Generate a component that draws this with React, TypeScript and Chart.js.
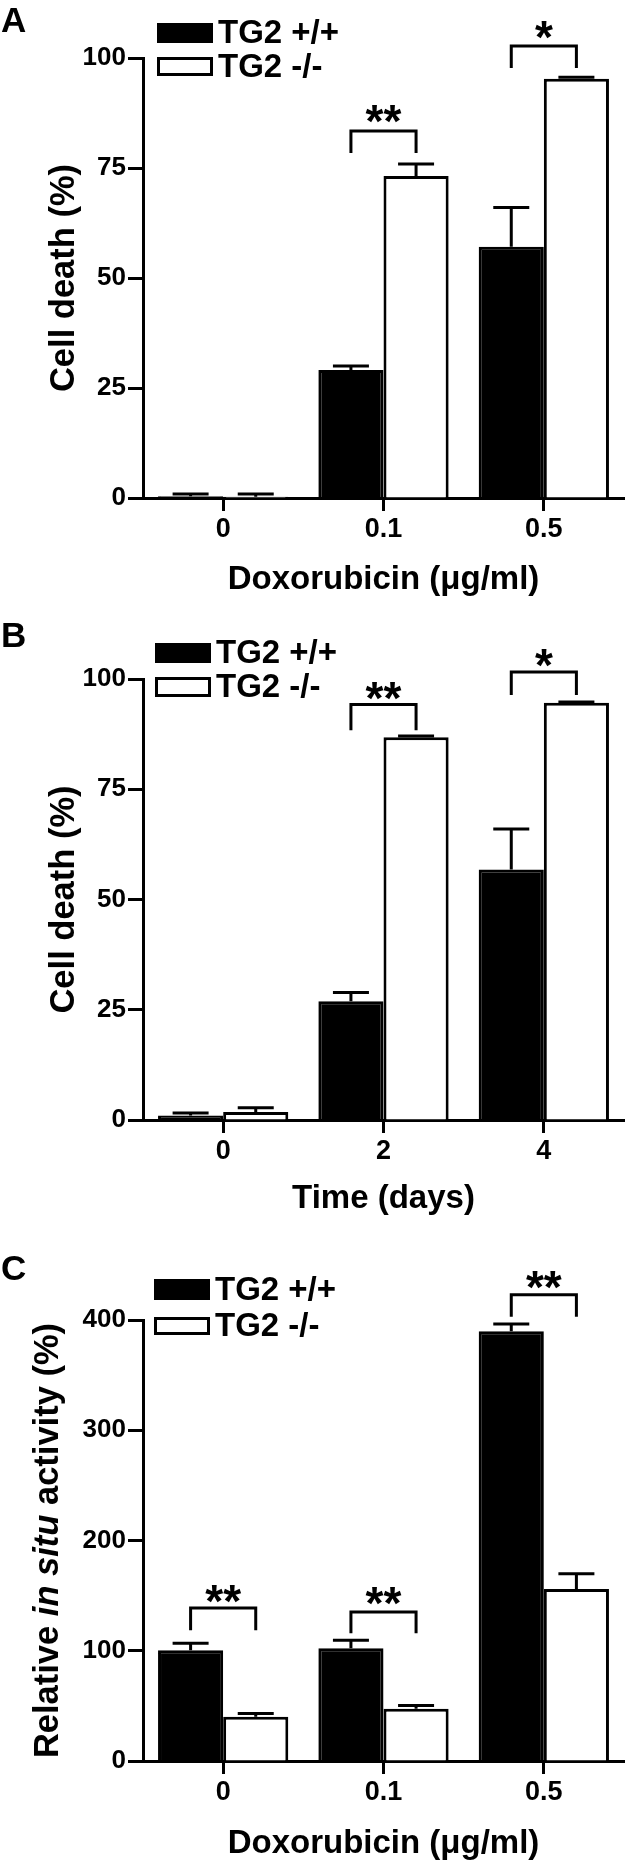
import React, { useEffect, useRef } from 'react';
import { Chart, registerables } from 'chart.js';

Chart.register(...registerables);

const FONT = '"Liberation Sans", Arial, Helvetica, sans-serif';

// ---------- Data: panel A (doxorubicin, cell death) ----------
const catsA = ['0', '0.1', '0.5'];
const wtA = [0.4, 29.1, 57.1];
const wtErrA = [0.5, 0.9, 8.9];
const koA = [0.3, 73.2, 95.3];
const koErrA = [0.6, 2.7, 0.3];
const sigA = ['', '**', '*'];
const brTopA = [null, 83.4, 102.7];
const brLegA = [null, 78.4, 97.7];
const starA = [null, 87.3, 106.4];

// ---------- Data: panel B (time, cell death) ----------
const catsB = ['0', '2', '4'];
const wtB = [1.0, 26.9, 56.8];
const wtErrB = [0.6, 2.0, 9.2];
const koB = [1.8, 86.8, 94.6];
const koErrB = [1.0, 0.3, 0.2];
const sigB = ['', '**', '*'];
const brTopB = [null, 94.2, 101.6];
const brLegB = [null, 88.4, 96.4];
const starB = [null, 97.3, 104.7];

// ---------- Data: panel C (relative in situ activity) ----------
const catsC = ['0', '0.1', '0.5'];
const wtC = [100.5, 102.3, 389.8];
const wtErrC = [6.2, 7.3, 6.5];
const koC = [40.2, 47.5, 156.0];
const koErrC = [2.9, 2.9, 13.9];
const sigC = ['**', '**', '**'];
const brTopC = [138.8, 135.2, 423.0];
const brLegC = [118.7, 115.8, 403.0];
const starC = [151.6, 149.8, 436.5];

const seriesLabels = ['TG2 +/+', 'TG2 -/-'];

type Panel = {
  letter: string;
  letterBaseline: number;
  top: number;
  height: number;
  chartTop: number;
  chartBottom: number;
  cats: string[];
  wt: number[];
  wtErr: number[];
  ko: number[];
  koErr: number[];
  sig: string[];
  brTop: (number | null)[];
  brLeg: (number | null)[];
  star: (number | null)[];
  yMax: number;
  yStep: number;
  xTitle: string;
  xTitlePad: number;
  yTitle: string | null;
  yTitleParts: { t: string; italic: boolean }[] | null;
  yTitleX: number;
  legendX: number;
  legendBoxes: { y: number; h: number }[];
};

const panels: Panel[] = [
  {
    letter: 'A', letterBaseline: 32, top: 0, height: 620, chartTop: 58, chartBottom: 498,
    cats: catsA, wt: wtA, wtErr: wtErrA, ko: koA, koErr: koErrA, sig: sigA,
    brTop: brTopA, brLeg: brLegA, star: starA, yMax: 100, yStep: 25,
    xTitle: 'Doxorubicin (\u03bcg/ml)', xTitlePad: 23.5, yTitle: 'Cell death (%)', yTitleParts: null, yTitleX: 64,
    legendX: 157, legendBoxes: [{ y: 23, h: 20 }, { y: 57, h: 19 }],
  },
  {
    letter: 'B', letterBaseline: 27, top: 620, height: 620, chartTop: 59, chartBottom: 500,
    cats: catsB, wt: wtB, wtErr: wtErrB, ko: koB, koErr: koErrB, sig: sigB,
    brTop: brTopB, brLeg: brLegB, star: starB, yMax: 100, yStep: 25,
    xTitle: 'Time (days)', xTitlePad: 24.5, yTitle: 'Cell death (%)', yTitleParts: null, yTitleX: 64,
    legendX: 155, legendBoxes: [{ y: 23, h: 20 }, { y: 57, h: 20 }],
  },
  {
    letter: 'C', letterBaseline: 40, top: 1240, height: 630, chartTop: 80, chartBottom: 521,
    cats: catsC, wt: wtC, wtErr: wtErrC, ko: koC, koErr: koErrC, sig: sigC,
    brTop: brTopC, brLeg: brLegC, star: starC, yMax: 400, yStep: 100,
    xTitle: 'Doxorubicin (\u03bcg/ml)', xTitlePad: 9.5, yTitle: null,
    yTitleParts: [
      { t: 'Relative ', italic: false },
      { t: 'in situ', italic: true },
      { t: ' activity (%)', italic: false },
    ],
    yTitleX: 48,
    legendX: 154, legendBoxes: [{ y: 39, h: 21 }, { y: 77, h: 18 }],
  },
];

const CAP = 36;
const Y_TITLE_SIZE = 34.5;

function makeDecor(p: Panel) {
  return {
    id: 'decor',
    afterDatasetsDraw(chart: any) {
      const ctx = chart.ctx;
      const ys = chart.scales.y;
      const errs = [p.wtErr, p.koErr];
      ctx.save();
      ctx.strokeStyle = '#000';
      ctx.lineWidth = 3;
      chart.data.datasets.forEach((ds: any, di: number) => {
        const meta = chart.getDatasetMeta(di);
        meta.data.forEach((bar: any, j: number) => {
          const v = ds.data[j];
          const e = errs[di][j];
          const yBar = ys.getPixelForValue(v);
          const yTop = ys.getPixelForValue(v + e);
          ctx.beginPath();
          ctx.moveTo(bar.x, yBar);
          ctx.lineTo(bar.x, yTop);
          ctx.moveTo(bar.x - CAP / 2, yTop);
          ctx.lineTo(bar.x + CAP / 2, yTop);
          ctx.stroke();
        });
      });
      ctx.restore();
    },
    afterDraw(chart: any) {
      const ctx = chart.ctx;
      const ys = chart.scales.y;
      const m0 = chart.getDatasetMeta(0);
      const m1 = chart.getDatasetMeta(1);
      ctx.save();
      ctx.strokeStyle = '#000';
      ctx.fillStyle = '#000';
      ctx.lineWidth = 3;
      ctx.lineJoin = 'miter';
      // significance brackets
      p.cats.forEach((_c, j) => {
        const top = p.brTop[j];
        const leg = p.brLeg[j];
        if (top == null || leg == null || !p.sig[j]) return;
        const xl = m0.data[j].x;
        const xr = m1.data[j].x;
        const yt = ys.getPixelForValue(top);
        const yl = ys.getPixelForValue(leg);
        ctx.beginPath();
        ctx.moveTo(xl, yl);
        ctx.lineTo(xl, yt);
        ctx.lineTo(xr, yt);
        ctx.lineTo(xr, yl);
        ctx.stroke();
        const sy = p.star[j];
        if (sy != null) {
          ctx.font = `bold 46px ${FONT}`;
          ctx.textAlign = 'center';
          ctx.textBaseline = 'alphabetic';
          const m = ctx.measureText(p.sig[j]);
          const off = (m.actualBoundingBoxAscent - m.actualBoundingBoxDescent) / 2;
          ctx.fillText(p.sig[j], (xl + xr) / 2, ys.getPixelForValue(sy) + off);
        }
      });
      // legend
      p.legendBoxes.forEach((b, i) => {
        const w = 56;
        if (i === 0) {
          ctx.fillStyle = '#000';
          ctx.fillRect(p.legendX, b.y, w, b.h);
        } else {
          ctx.fillStyle = '#fff';
          ctx.fillRect(p.legendX, b.y, w, b.h);
          ctx.strokeStyle = '#000';
          ctx.lineWidth = 3;
          ctx.strokeRect(p.legendX + 1.5, b.y + 1.5, w - 3, b.h - 3);
        }
        ctx.fillStyle = '#000';
        ctx.font = `bold 33px ${FONT}`;
        ctx.textAlign = 'left';
        ctx.textBaseline = 'middle';
        ctx.fillText(seriesLabels[i], p.legendX + 61, b.y + b.h / 2 + 1);
      });
      // panel letter
      ctx.fillStyle = '#000';
      ctx.font = `bold 35px ${FONT}`;
      ctx.textAlign = 'left';
      ctx.textBaseline = 'alphabetic';
      ctx.fillText(p.letter, 1, p.letterBaseline);
      // mixed-style y title
      if (p.yTitleParts) {
        const area = chart.chartArea;
        const cy = (area.top + area.bottom) / 2;
        const fontFor = (it: boolean) => `${it ? 'italic ' : ''}bold ${Y_TITLE_SIZE}px ${FONT}`;
        let total = 0;
        p.yTitleParts.forEach((pt) => {
          ctx.font = fontFor(pt.italic);
          total += ctx.measureText(pt.t).width;
        });
        ctx.translate(p.yTitleX, cy);
        ctx.rotate(-Math.PI / 2);
        ctx.textBaseline = 'middle';
        ctx.textAlign = 'left';
        let x = -total / 2;
        p.yTitleParts.forEach((pt) => {
          ctx.font = fontFor(pt.italic);
          ctx.fillText(pt.t, x, 0);
          x += ctx.measureText(pt.t).width;
        });
      }
      ctx.restore();
    },
  };
}

function PanelChart({ p }: { p: Panel }) {
  const ref = useRef<HTMLCanvasElement | null>(null);
  useEffect(() => {
    if (!ref.current) return;
    const chart = new Chart(ref.current, {
      type: 'bar',
      data: {
        labels: p.cats,
        datasets: [
          {
            label: seriesLabels[0], data: p.wt, backgroundColor: '#000', borderColor: '#000',
            borderWidth: 3, categoryPercentage: 0.8125, barPercentage: 1,
          },
          {
            label: seriesLabels[1], data: p.ko, backgroundColor: '#fff', borderColor: '#000',
            borderWidth: 3, categoryPercentage: 0.8125, barPercentage: 1,
          },
        ],
      },
      options: {
        responsive: false,
        animation: false,
        events: [],
        layout: { padding: { top: p.chartTop, left: 0, right: 12, bottom: 0 } },
        plugins: { legend: { display: false }, tooltip: { enabled: false } },
        scales: {
          x: {
            grid: {
              offset: false, drawOnChartArea: false, drawTicks: true, tickLength: 13,
              tickWidth: 3, tickColor: '#000', color: '#000',
            },
            border: { display: true, color: '#000', width: 3 },
            ticks: {
              autoSkip: false, color: '#000', padding: 2,
              font: { family: FONT, size: 27, weight: 'bold', lineHeight: 1.2 },
            },
            title: {
              display: true, text: p.xTitle, color: '#000',
              font: { family: FONT, size: 33, weight: 'bold', lineHeight: 1 },
              padding: { top: 0, bottom: p.xTitlePad },
            },
            afterFit: (s: any) => { s.height = p.height - p.chartBottom; },
          },
          y: {
            min: 0, max: p.yMax,
            grid: {
              drawOnChartArea: false, drawTicks: true, tickLength: 15,
              tickWidth: 3, tickColor: '#000', color: '#000',
            },
            border: { display: true, color: '#000', width: 3 },
            ticks: {
              stepSize: p.yStep, color: '#000', padding: 2,
              font: { family: FONT, size: 26, weight: 'bold', lineHeight: 1.2 },
            },
            title: {
              display: !!p.yTitle, text: p.yTitle || '', color: '#000',
              font: { family: FONT, size: Y_TITLE_SIZE, weight: 'bold', lineHeight: 1 },
              padding: { top: p.yTitleX - Y_TITLE_SIZE / 2, bottom: 0 },
            },
            afterFit: (s: any) => { s.width = 143; },
          },
        },
      } as any,
      plugins: [makeDecor(p)],
    });
    return () => chart.destroy();
  }, [p]);
  return (
    <canvas
      ref={ref}
      width={636}
      height={p.height}
      style={{ position: 'absolute', left: 0, top: p.top, width: 636, height: p.height, display: 'block' }}
    />
  );
}

export default function App() {
  return (
    <div style={{ position: 'absolute', left: 0, top: 0, width: 636, height: 1870, background: '#fff' }}>
      {panels.map((p) => (
        <PanelChart key={p.letter} p={p} />
      ))}
    </div>
  );
}
